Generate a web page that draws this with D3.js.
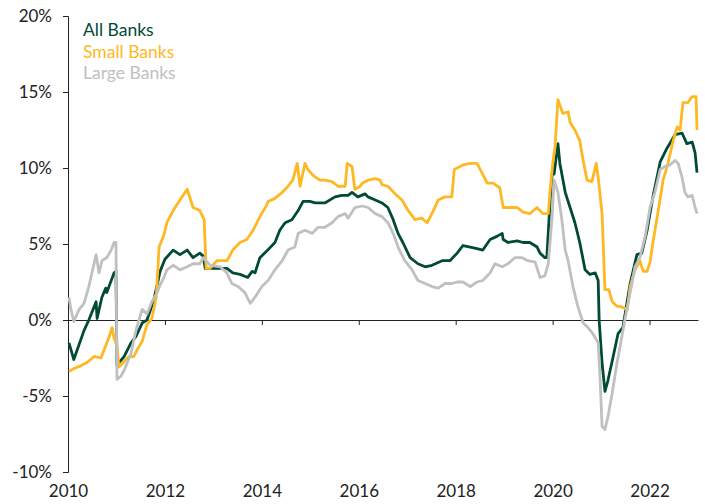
<!DOCTYPE html>
<html>
<head>
<meta charset="utf-8">
<script src="https://cdn.jsdelivr.net/npm/d3@7"></script>
<style>
  body { margin: 0; background: #fff; }
  text { font-family: Lato, "Noto Sans", sans-serif; }
</style>
</head>
<body>
<div id="chartDiv"></div>
<script>
var width = 705,
    height = 504;

// loan growth, year-over-year % ([year, value])
var allBanks = [[2010.02,-1.5],[2010.12,-2.6],[2010.33,-0.7],[2010.43,0.0],[2010.58,1.2],[2010.60,0.1],[2010.70,1.5],[2010.78,2.1],[2010.80,1.8],[2010.95,3.1],[2010.99,3.2],
  [2011.01,-3.0],[2011.05,-2.8],[2011.16,-2.4],[2011.30,-1.5],[2011.40,-1.1],[2011.53,-0.2],[2011.63,0.0],[2011.77,1.3],[2011.90,3.2],[2012.00,4.0],[2012.17,4.6],[2012.31,4.3],[2012.46,4.6],[2012.58,4.1],[2012.72,4.4],[2012.79,4.2],[2012.83,3.4],[2012.99,3.4],[2013.28,3.4],[2013.40,3.1],[2013.55,3.0],[2013.71,2.8],[2013.80,3.2],[2013.86,3.1],[2013.96,4.1],[2014.09,4.5],
  [2014.27,5.1],[2014.37,5.9],[2014.48,6.4],[2014.62,6.6],[2014.75,7.2],[2014.85,7.8],[2014.99,7.8],[2015.10,7.7],[2015.30,7.7],[2015.51,8.1],[2015.65,8.2],[2015.78,8.2],[2015.86,8.4],[2015.98,8.1],[2016.13,8.3],[2016.19,8.1],[2016.34,7.9],[2016.48,7.7],[2016.60,7.4],[2016.71,6.6],[2016.81,5.7],[2016.91,5.1],[2017.06,4.1],[2017.22,3.7],[2017.37,3.5],[2017.51,3.6],[2017.72,3.9],
  [2017.88,3.9],[2018.03,4.4],[2018.15,4.9],[2018.30,4.8],[2018.44,4.7],[2018.56,4.6],[2018.71,5.3],[2018.85,5.5],[2018.96,5.7],[2018.98,5.3],[2019.08,5.1],[2019.27,5.2],[2019.39,5.1],[2019.53,5.1],[2019.68,4.8],[2019.74,4.4],[2019.84,4.1],[2019.88,4.1],[2019.95,7.9],[2020.00,10.0],[2020.03,9.6],[2020.11,11.6],[2020.15,10.3],[2020.26,8.4],[2020.36,7.4],[2020.46,6.4],[2020.56,5.1],[2020.67,3.3],[2020.77,3.0],[2020.88,3.1],[2020.94,2.6],[2020.96,0.0],
  [2021.02,-2.8],[2021.08,-4.7],[2021.14,-4.0],[2021.25,-2.4],[2021.35,-0.9],[2021.45,-0.5],[2021.60,2.4],[2021.74,4.3],[2021.84,4.4],[2021.95,5.9],[2022.07,8.1],[2022.22,10.4],[2022.36,11.3],[2022.53,12.2],[2022.67,12.3],[2022.77,11.6],[2022.88,11.7],[2022.94,11.0],[2022.98,9.7]];

var smallBanks = [[2010.02,-3.4],[2010.12,-3.2],[2010.27,-3.0],[2010.39,-2.8],[2010.54,-2.4],[2010.68,-2.5],[2010.74,-2.0],[2010.85,-1.1],[2010.91,-0.5],[2010.95,-1.2],[2011.01,-1.7],[2011.05,-3.1],[2011.11,-2.9],[2011.26,-2.4],[2011.36,-2.4],[2011.42,-2.0],[2011.53,-1.4],[2011.63,-0.3],[2011.73,0.1],[2011.82,1.5],[2011.88,4.8],[2011.98,5.6],
  [2012.04,6.4],[2012.17,7.2],[2012.31,7.9],[2012.46,8.6],[2012.58,7.4],[2012.72,7.2],[2012.81,6.6],[2012.85,3.4],[2012.93,3.4],[2013.07,3.9],[2013.28,3.9],[2013.40,4.6],[2013.55,5.1],[2013.69,5.3],[2013.82,5.9],[2013.96,6.8],[2014.09,7.5],[2014.13,7.8],[2014.27,8.0],[2014.42,8.4],[2014.54,8.8],[2014.64,9.2],[2014.73,10.3],[2014.79,8.8],[2014.89,10.3],[2014.95,9.9],[2015.06,9.5],[2015.20,9.2],[2015.30,9.2],[2015.45,9.1],[2015.57,8.8],[2015.72,8.8],[2015.76,10.3],[2015.86,10.1],[2015.92,8.6],
  [2016.03,8.8],[2016.07,9.0],[2016.19,9.2],[2016.34,9.3],[2016.44,9.2],[2016.48,8.9],[2016.60,8.8],[2016.75,8.3],[2016.89,7.9],[2017.02,7.2],[2017.16,6.6],[2017.30,6.7],[2017.41,6.4],[2017.51,7.0],[2017.64,7.9],[2017.78,8.1],[2017.92,8.1],[2017.97,9.9],[2018.15,10.2],[2018.30,10.3],[2018.44,10.3],[2018.54,9.7],[2018.65,9.0],[2018.77,9.0],[2018.91,8.7],[2018.98,7.4],[2019.12,7.4],[2019.27,7.4],[2019.39,7.1],[2019.53,7.0],[2019.68,7.4],[2019.80,7.0],[2019.91,7.0],
  [2019.95,8.6],[2020.01,10.5],[2020.05,11.4],[2020.11,14.5],[2020.21,13.6],[2020.32,13.7],[2020.36,13.0],[2020.46,12.5],[2020.56,11.8],[2020.63,10.5],[2020.71,9.2],[2020.81,9.1],[2020.90,10.3],[2020.94,9.4],[2021.02,7.0],[2021.08,2.0],[2021.16,2.0],[2021.23,1.2],[2021.33,0.9],[2021.39,0.9],[2021.54,0.7],[2021.60,2.2],[2021.70,3.3],[2021.80,3.9],[2021.87,3.2],[2021.95,3.2],[2022.01,3.8],[2022.07,5.1],[2022.17,7.0],[2022.28,9.2],[2022.38,10.3],[2022.48,11.7],[2022.57,12.7],[2022.63,12.5],[2022.69,14.3],[2022.79,14.3],[2022.88,14.7],[2022.96,14.7],[2022.98,12.5]];

var largeBanks = [[2010.02,1.5],[2010.06,0.7],[2010.12,-0.1],[2010.23,0.7],[2010.33,1.1],[2010.43,2.2],[2010.58,4.3],[2010.64,3.1],[2010.70,3.9],[2010.80,4.1],[2010.89,4.6],[2010.95,5.1],[2010.99,5.1],[2011.01,-3.9],[2011.09,-3.7],[2011.16,-3.3],[2011.30,-2.2],[2011.40,-0.7],[2011.53,0.7],[2011.63,0.4],[2011.73,1.2],[2011.84,1.8],[2011.90,2.3],[2011.98,2.8],
  [2012.04,3.3],[2012.17,3.6],[2012.31,3.3],[2012.46,3.5],[2012.58,3.7],[2012.72,3.7],[2012.79,4.1],[2012.93,3.6],[2013.14,3.5],[2013.28,3.1],[2013.38,2.4],[2013.51,2.2],[2013.65,1.8],[2013.76,1.1],[2013.86,1.5],[2014.00,2.2],[2014.13,2.6],[2014.27,3.3],[2014.42,3.9],[2014.54,4.6],[2014.68,4.8],[2014.75,5.7],[2014.89,5.9],[2015.04,5.7],[2015.16,6.1],[2015.30,6.1],[2015.45,6.4],[2015.57,6.8],[2015.72,7.0],[2015.78,6.7],[2015.92,7.4],
  [2016.07,7.5],[2016.19,7.4],[2016.34,7.0],[2016.48,6.8],[2016.60,6.4],[2016.71,5.7],[2016.81,4.8],[2016.95,3.9],[2017.10,3.3],[2017.22,2.6],[2017.37,2.4],[2017.51,2.2],[2017.64,2.1],[2017.78,2.4],[2017.92,2.4],[2018.03,2.5],[2018.15,2.5],[2018.30,2.2],[2018.44,2.5],[2018.56,2.6],[2018.71,3.1],[2018.81,3.7],[2018.96,3.5],[2019.08,3.7],[2019.22,4.1],[2019.37,4.1],[2019.49,3.9],[2019.64,3.8],[2019.74,2.8],[2019.84,2.9],[2019.91,3.7],
  [2019.99,6.8],[2020.03,9.2],[2020.11,8.4],[2020.19,6.6],[2020.26,4.6],[2020.32,3.9],[2020.42,2.2],[2020.52,0.9],[2020.63,-0.2],[2020.73,-0.5],[2020.83,-0.9],[2020.94,-1.5],[2020.98,-3.9],[2021.02,-7.0],[2021.08,-7.2],[2021.14,-6.4],[2021.23,-4.8],[2021.33,-2.8],[2021.39,-1.8],[2021.49,0.0],[2021.60,1.8],[2021.70,3.5],[2021.80,4.1],[2021.91,5.5],[2022.01,7.4],[2022.11,8.4],[2022.22,9.9],[2022.32,10.1],[2022.42,10.2],[2022.53,10.5],[2022.59,10.3],[2022.67,9.4],[2022.73,8.4],[2022.79,8.1],[2022.88,8.2],[2022.94,7.4],[2022.98,7.0]];

var seriesNames = ["All Banks", "Small Banks", "Large Banks"];
var seriesColors = ["#004a36", "#fdb824", "#c0c0c0"];
var yTicks = [-10, -5, 0, 5, 10, 15, 20];
var xTicks = [2010, 2012, 2014, 2016, 2018, 2020, 2022];

var svg = d3.select("#chartDiv")
    .append("svg")
    .attr("width", width)
    .attr("height", height);

var x = d3.scaleLinear().domain([2010, 2023]).range([68, 698]);
var y = d3.scaleLinear().domain([-10, 20]).range([472, 16]);

// y axis on the left
svg.append("g")
    .attr("transform", "translate(68,0)")
    .call(d3.axisLeft(y).tickValues(yTicks).tickSize(5).tickPadding(11)
        .tickFormat(function (d) { return d + "%"; }))
    .call(function (g) {
        g.selectAll("text").style("font-size", "17px").attr("fill", "#222");
        g.selectAll("line, path").attr("stroke", "#222");
    });

// x axis line sits at zero
svg.append("g")
    .attr("transform", "translate(0," + y(0) + ")")
    .call(d3.axisBottom(x).tickValues(xTicks).tickSize(5).tickSizeOuter(0).tickFormat(""))
    .call(function (g) {
        g.selectAll("line, path").attr("stroke", "#222");
    });

// year labels along the bottom
svg.append("g")
    .attr("transform", "translate(0,481)")
    .call(d3.axisBottom(x).tickValues(xTicks).tickSize(0).tickPadding(4).tickFormat(d3.format("d")))
    .call(function (g) {
        g.select(".domain").remove();
        g.selectAll("text").style("font-size", "17px").attr("fill", "#222");
    });

var line = d3.line()
    .x(function (d) { return x(d[0]); })
    .y(function (d) { return y(d[1]); });

[allBanks, smallBanks, largeBanks].forEach(function (data, i) {
    svg.append("path")
        .datum(data)
        .attr("d", line)
        .attr("fill", "none")
        .attr("stroke", seriesColors[i])
        .attr("stroke-width", 2.8)
        .attr("stroke-linejoin", "round");
});

// legend
svg.selectAll(".legend")
    .data(seriesNames)
    .enter().append("text")
    .attr("class", "legend")
    .attr("x", 83)
    .attr("y", function (d, i) { return 36 + i * 21.5; })
    .attr("fill", function (d, i) { return seriesColors[i]; })
    .style("font-size", "17.5px")
    .text(function (d) { return d; });
</script>
</body>
</html>
